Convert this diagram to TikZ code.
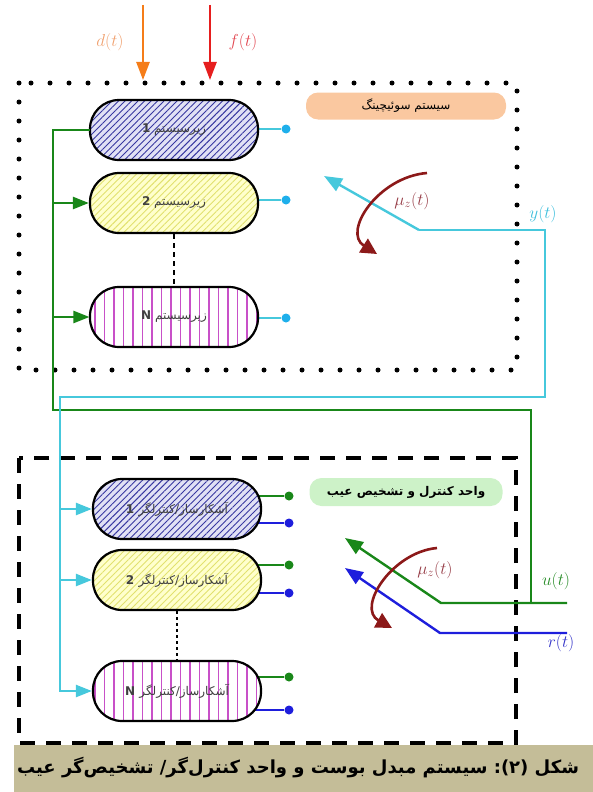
\documentclass[tikz,border=0pt]{standalone}
\usepackage{fontspec}
\newfontfamily\arabicfont[Script=Arabic]{DejaVu Sans}
\newfontfamily\plainfont{DejaVu Sans}
\TeXXeTstate=1
\usetikzlibrary{arrows.meta,patterns.meta,backgrounds}
\definecolor{orangeA}{RGB}{245,125,25}
\definecolor{redA}{RGB}{230,30,30}
\definecolor{dlab}{RGB}{240,160,110}
\definecolor{flab}{RGB}{225,70,80}
\definecolor{cyanL}{RGB}{70,200,220}
\definecolor{dotcyan}{RGB}{30,175,235}
\definecolor{greenL}{RGB}{25,135,25}
\definecolor{blueL}{RGB}{30,30,220}
\definecolor{darkred}{RGB}{140,25,25}
\definecolor{mulab}{RGB}{150,60,70}
\definecolor{ylab}{RGB}{60,190,220}
\definecolor{ulab}{RGB}{40,140,40}
\definecolor{rlab}{RGB}{50,50,200}
\definecolor{lav}{RGB}{225,225,245}
\definecolor{hatchblue}{RGB}{55,55,160}
\definecolor{lyellow}{RGB}{255,255,205}
\definecolor{hatchyellow}{RGB}{225,225,110}
\definecolor{magentaL}{RGB}{200,80,200}
\definecolor{swfill}{RGB}{250,200,160}
\definecolor{ctlfill}{RGB}{205,242,200}
\definecolor{captan}{RGB}{196,189,152}
\tikzset{
  sysbox/.style={draw=black, line width=2.2pt, rounded corners=29pt,
    minimum width=168pt, minimum height=60pt, inner sep=0pt,
    font=\arabicfont\fontsize{12}{13}\selectfont, text=black!75},
  hatchA/.style={preaction={fill=lav}, pattern={Lines[angle=45,distance=4.6pt,line width=0.9pt]}, pattern color=hatchblue},
  hatchB/.style={preaction={fill=lyellow}, pattern={Lines[angle=45,distance=4.6pt,line width=0.9pt]}, pattern color=hatchyellow},
  hatchC/.style={preaction={fill=white}, pattern={Lines[angle=90,distance=9.5pt,line width=1.1pt]}, pattern color=magentaL},
  dotframe/.style={line width=5pt, line cap=round, dash pattern=on 0pt off 19pt},
  dashframe/.style={line width=4.5pt, dash pattern=on 15pt off 11pt},
  lblbox/.style={rounded corners=12pt, inner sep=0pt, font=\arabicfont\fontsize{12}{13}\selectfont},
  tip/.style={-{Triangle[length=16pt,width=12pt]}},
  cyanline/.style={draw=cyanL, line width=2.4pt},
  greenline/.style={draw=greenL, line width=2.4pt},
  blueline/.style={draw=blueL, line width=2.4pt},
  redarc/.style={draw=darkred, line width=2.6pt, -{Triangle[length=16pt,width=16pt]}},
  dotnode/.style={circle, inner sep=0pt, minimum size=9pt},
  siglab/.style={font=\fontsize{17.5}{18}\selectfont},
}
\begin{document}
\begin{tikzpicture}[x=1pt,y=-1pt]
\useasboundingbox (0,0) rectangle (593,792);

% frames
\draw[dotframe] (19,83) rectangle (517,370);
\draw[dashframe] (19,458) rectangle (516,743);

% caption band
\fill[captan] (14,745) rectangle (593,792);
\node[font=\arabicfont\bfseries\fontsize{18}{20}\selectfont] (cap) at (298,768)
  {\beginR شکل \hbox{\plainfont\bfseries )}\hbox{۲}\hbox{\plainfont\bfseries (}\hbox{\plainfont\bfseries :} سیستم مبدل بوست و واحد کنترل‌گر/ تشخیص‌گر عیب\endR};

% top subsystems
\node[sysbox, hatchA] (b1) at (174,130) {\beginR زیرسیستم \textbf{1}\endR};
\node[sysbox, hatchB] (b2) at (174,203) {\beginR زیرسیستم \textbf{2}\endR};
\node[sysbox, hatchC] (bN) at (174,317) {\beginR زیرسیستم \textbf{N}\endR};

% bottom detector/controllers
\node[sysbox, hatchA] (c1) at (177,509) {\beginR آشکارساز/کنترلگر \textbf{1}\endR};
\node[sysbox, hatchB] (c2) at (177,580) {\beginR آشکارساز/کنترلگر \textbf{2}\endR};
\node[sysbox, hatchC] (cN) at (177,691) {\beginR آشکارساز/کنترلگر \textbf{N}\endR};

% label boxes
\node[lblbox, fill=swfill, minimum width=200pt, minimum height=27pt] (swl) at (406,106) {\beginR سیستم سوئیچینگ\endR};
\node[lblbox, fill=ctlfill, minimum width=193pt, minimum height=28pt, font=\arabicfont\bfseries\fontsize{12}{13}\selectfont] (ctl) at (406,492) {\beginR واحد کنترل و تشخیص عیب\endR};

% output dots
\node[dotnode, fill=dotcyan] (o1) at (286,129) {};
\node[dotnode, fill=dotcyan] (o2) at (286,200) {};
\node[dotnode, fill=dotcyan] (oN) at (286,318) {};
\node[dotnode, fill=greenL] (u1) at (289,496) {};
\node[dotnode, fill=blueL] (r1) at (289,523) {};
\node[dotnode, fill=greenL] (u2) at (289,565) {};
\node[dotnode, fill=blueL] (r2) at (289,593) {};
\node[dotnode, fill=greenL] (uN) at (289,677) {};
\node[dotnode, fill=blueL] (rN) at (289,710) {};

\begin{scope}[on background layer]
\draw[cyanline] (b1.center |- o1) -- (o1);
\draw[cyanline] (b2.center |- o2) -- (o2);
\draw[cyanline] (bN.center |- oN) -- (oN);
\draw[greenline] (c1.center |- u1) -- (u1);
\draw[blueline] (c1.center |- r1) -- (r1);
\draw[greenline] (c2.center |- u2) -- (u2);
\draw[blueline] (c2.center |- r2) -- (r2);
\draw[greenline] (cN.center |- uN) -- (uN);
\draw[blueline] (cN.center |- rN) -- (rN);
\end{scope}

% vertical ellipsis connectors
\draw[line width=2.4pt, dash pattern=on 5pt off 4pt] (b2.south) -- (bN.north);
\draw[line width=2pt, dash pattern=on 3pt off 3pt] (c2.south) -- (cN.north);

% disturbance and fault inputs
\coordinate (dS) at (143,5);
\coordinate (dE) at (143,80);
\coordinate (fS) at (210,5);
\coordinate (fE) at (210,80);
\draw[draw=orangeA, line width=2.4pt, -{Triangle[length=18pt,width=13pt]}] (dS) -- (dE);
\draw[draw=redA, line width=2.4pt, -{Triangle[length=18pt,width=13pt]}] (fS) -- (fE);
\node[siglab, text=dlab] (dl) at (110,42) {$d(t)$};
\node[siglab, text=flab] (fl) at (243,42) {$f(t)$};

% green control path
\coordinate (gTL) at (53,130);
\coordinate (gBL) at (53,410);
\coordinate (gBR) at (531,410);
\coordinate (gJ) at (531,603);
\draw[greenline] (b1.west) -- (gTL) -- (gBL) -- (gBR) -- (gJ);
\draw[greenline, tip] (gTL |- b2.west) -- (b2.west);
\draw[greenline, tip] (gTL |- bN.west) -- (bN.west);

% cyan measurement path
\coordinate (swc) at (419,230);
\coordinate (swtip) at (324,176);
\coordinate (yR) at (545,230);
\coordinate (yD) at (545,397);
\coordinate (cyL) at (60,397);
\draw[cyanline, -{Triangle[length=18pt,width=14pt]}] (swc) -- (swtip);
\draw[cyanline, tip] (swc) -- (yR) -- (yD) -- (cyL) |- (cN.west);
\draw[cyanline, tip] (cyL |- c1.west) -- (c1.west);
\draw[cyanline, tip] (cyL |- c2.west) -- (c2.west);

% switching arcs
\coordinate (m1s) at (427,173);
\coordinate (m1e) at (377,254);
\draw[redarc] (m1s) .. controls (378,177) and (342,232) .. (m1e);
\node[siglab, text=mulab] (mu1) at (412,201) {$\mu_z(t)$};
\node[siglab, text=ylab] (yl) at (543,214) {$y(t)$};

% bottom switch
\coordinate (uR) at (567,603);
\coordinate (usw) at (441,603);
\coordinate (utip) at (345,538);
\coordinate (rR) at (567,633);
\coordinate (rsw) at (440,633);
\coordinate (rtip) at (345,568);
\draw[greenline, -{Triangle[length=18pt,width=14pt]}] (uR) -- (usw) -- (utip);
\draw[blueline, -{Triangle[length=18pt,width=14pt]}] (rR) -- (rsw) -- (rtip);
\coordinate (m2s) at (437,548);
\coordinate (m2e) at (392,628);
\draw[redarc] (m2s) .. controls (392,552) and (356,608) .. (m2e);
\node[siglab, text=mulab] (mu2) at (435,570) {$\mu_z(t)$};
\node[siglab, text=ulab] (ul) at (556,581) {$u(t)$};
\node[siglab, text=rlab] (rl) at (561,643) {$r(t)$};
\end{tikzpicture}
\end{document}
